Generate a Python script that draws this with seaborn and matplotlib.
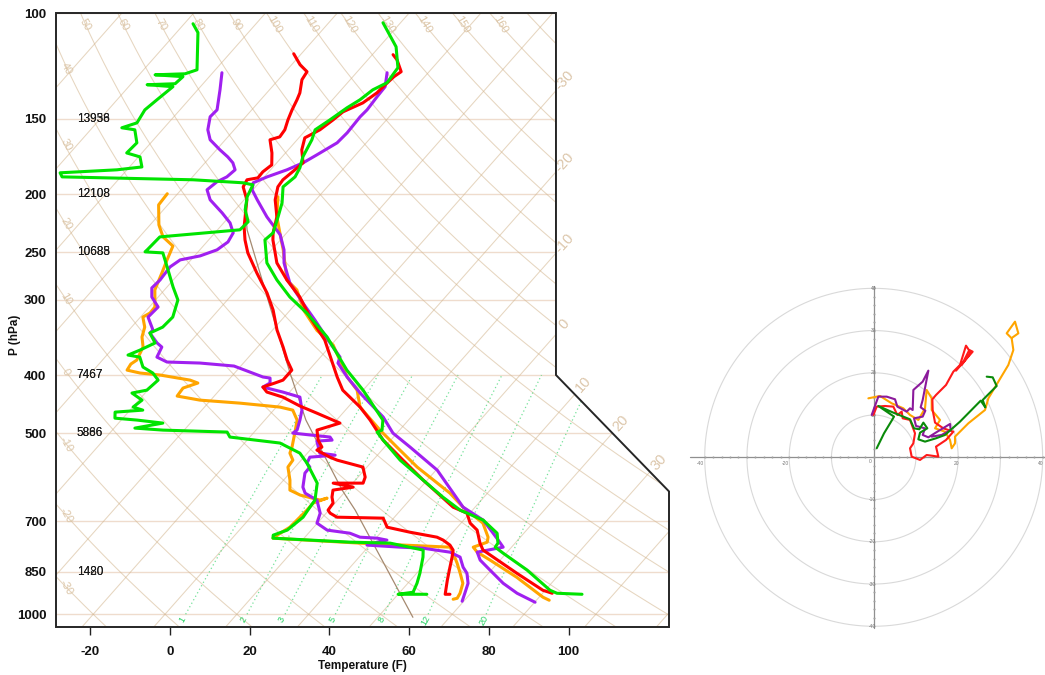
import numpy as np
import pandas as pd
import matplotlib
matplotlib.use("Agg")
import matplotlib.pyplot as plt
from matplotlib.patches import Polygon
import seaborn as sns

sns.set_theme(style="white")
plt.rcParams["font.family"] = ["Liberation Sans", "DejaVu Sans"]

# ---------------- sounding data (pressure hPa, temperature degF) ----------------
green_t_p = [103.8,113.8,123.3,130.6,134.2,139.4,143.8,150.6,156.4,162.5,173.4,180.9,187.3,194.6,206.9,218.3,232.1,238.4,260.4,278,296.7,315.5,345.8,392.6,423.9,475.4,494,497.7,513.3,554.2,598.3,638.5,671.1,697.3,733.2,761.6,773.4,791.3,844.5,912.2,922.7,926.3]
green_t_f = [-80.4,-71.8,-66.7,-66.1,-68.1,-69.1,-70.6,-72.2,-73.7,-72.3,-70.8,-69.1,-68.3,-69.1,-65.8,-63.7,-61.4,-61.9,-56.3,-50.0,-43.0,-35.2,-24.8,-12.5,-4.0,7.6,9.6,8.8,12.1,20.8,31.0,39.7,46.9,54.9,61.3,63.7,63.9,67.2,77.0,87.2,89.6,96.1]

red_t_p = [117.3,119.6,125.2,127.6,132.6,135.8,141.1,146.0,150.6,156.4,161.3,168.9,177.5,182.3,189.4,194.6,204.5,218.3,232.1,238.4,260.4,278,296.7,320.4,349.9,403.1,423.9,452.3,475.4,513.3,554.2,598.3,663.6,679,705.4,724.5,761.6,782.1,854.6,912.2,922.7]
red_t_f = [-70.8,-68.7,-65.0,-65.7,-66.2,-66.4,-67.7,-70.7,-71.4,-72.5,-74.5,-72.6,-69.4,-69.9,-70.7,-70.4,-68.2,-64.0,-61.4,-59.9,-53.8,-47.5,-40.5,-33.5,-24.7,-13.4,-9.1,-1.0,4.4,12.1,21.5,31.0,44.5,49.3,52.3,55.6,59.2,61.5,75.1,85.4,88.4]

purple_t_p = [125.7,132.6,137.8,144.9,148.8,158.2,164.4,172.1,177.5,182.3,187.3,191.6,196.8,204.5,218.3,233.8,247.7,260.4,281.2,303.6,324.1,353.9,373.5,382.1,403.1,428.6,469.9,499.7,527.2,575.8,663.6,697.3,733.2,752.8,773.4,788.3,812.7,844.5,888.1,922.7,955.0]
purple_t_f = [-68.3,-65.7,-65.5,-65.1,-65.3,-65.0,-65.3,-67.7,-69.4,-71.9,-75.3,-77.5,-76.2,-72.7,-66.5,-59.2,-54.9,-52.0,-46.1,-38.4,-31.6,-22.7,-17.1,-16.3,-10.9,-4.1,7.0,13.0,20.4,32.3,47.0,54.9,60.3,63.1,65.9,60.5,63.0,67.7,73.9,79.6,86.1]

orange_t_p = [202.1,218.3,232.1,247.7,260.4,278,288.8,312.4,337.2,356.6,377.8,403.1,423.9,452.3,494,527.2,569.1,628.9,663.6,705.4,744.3,758.7,773.4,788.3,812.7,868.1,937.0,947.7]
orange_t_f = [-68.2,-64.0,-59.7,-55.1,-51.8,-47.5,-42.8,-36.5,-28.8,-21.5,-16.5,-10.9,-5.5,-1.0,9.1,17.1,26.6,40.6,47.0,55.5,59.9,60.8,58.4,60.5,65.5,76.0,87.0,89.2]

green_d_p = [104.2,107.8,124.3,126.2,126.7,127.6,131.1,131.6,132.6,139.4,
             144.9,152.3,155.2,156.4,164.4,170.9,173.5,180.3,182.3,184.4,
             187.3,189.4,191.6,193.1,202.1,212.5,222.5,229.4,235.7,247.7,
             249.6,250.6,264.5,285.5,300.1,320.4,333.0,340.6,353.8,363.6,
             370.6,373.5,388.0,397.0,407.9,423.9,428.6,440.4,452.3,457.6,
             461.1,471.9,475.4,480.9,490.2,494.0,497.7,507.3,519.1,539.5,
             560.6,605.2,645.9,663.6,689.5,724.5,738.6,747.2,758.7,761.6,
             782.1,803.4,854.6,888.1,919.1,926.3,926.3]
green_d_f = [-127.8,-124.6,-116.6,-118.7,-126.0,-118.6,-119.0,-125.8,-118.9,-120.0,
             -120.8,-119.9,-122.6,-118.9,-115.5,-115.8,-111.6,-108.9,-114.5,-128.1,
             -126.7,-93.2,-80.0,-77.1,-75.9,-73.5,-70.1,-70.4,-88.9,-89.2,
             -89.3,-84.6,-80.4,-74.5,-70.4,-67.9,-68.2,-70.1,-66.6,-68.8,
             -70.7,-67.3,-64.3,-60.5,-57.6,-58.2,-61.3,-57.2,-57.9,-54.8,
             -61.3,-60.0,-54.0,-46.9,-52.8,-45.3,-28.8,-27.0,-13.1,-5.9,
             -1.9,5.1,8.3,8.6,9.1,8.0,5.6,6.2,26.4,36.7,
             46.5,48.0,50.8,52.3,53.3,50.0,57.2]

red_d_p = [116.9,121.9,125.2,129.1,135.8,139.4,144.9,150.6,156.4,160.7,
           162.5,170.9,178.9,183.7,188.0,189.4,194.6,204.5,226.8,238.4,
           250.6,270.6,292.2,311.9,336.7,359.4,377.8,392.6,407.9,412.5,
           418.9,427.0,435.3,450.5,462.9,480.9,494.0,513.3,527.2,533.3,
           547.9,554.2,569.1,591.5,605.2,605.2,614.6,621.6,638.5,653.3,
           671.1,679.0,689.5,692.1,716.5,730.3,744.4,752.8,767.3,782.1,
           803.4,835.1,877.3,926.3,926.3]
red_d_f = [-95.9,-91.9,-88.6,-88.1,-85.7,-84.9,-83.9,-82.7,-81.3,-81.0,
           -82.8,-79.4,-76.8,-77.5,-77.4,-79.7,-79.1,-75.3,-70.0,-66.9,
           -63.3,-56.6,-49.6,-44.3,-38.9,-33.6,-29.7,-26.3,-26.3,-27.7,
           -29.8,-27.7,-22.6,-16.3,-10.5,-2.5,-6.7,-4.2,-1.7,-2.3,
           2.5,5.0,13.0,15.8,16.6,9.1,15.0,10.6,11.9,13.5,
           13.8,15.0,17.6,29.4,32.4,39.2,47.1,49.3,52.1,54.0,
           55.3,57.0,59.2,61.8,63.0]

purple_d_p = [125.7,134.2,144.9,148.8,156.4,162.5,168.9,173.5,177.5,182.3,
              187.3,190.9,196.8,204.5,215.0,223.4,232.1,240.3,247.7,253.5,
              257.4,264.5,278.0,286.6,296.7,308.3,320.4,336.7,340.6,353.8,
              359.4,373.5,380.6,382.1,386.5,403.1,404.7,412.5,418.9,427.0,
              435.3,457.6,475.4,494.0,499.7,507.3,513.3,515.2,539.5,543.7,
              547.9,560.6,569.1,582.4,614.6,628.9,645.9,679.0,705.4,724.5,
              733.2,744.4,747.2,752.8,758.7,767.3,773.4,776.4,788.4,803.4,
              835.1,854.6,888.1,922.7,951.4]
purple_d_f = [-109.7,-106.4,-102.7,-102.9,-100.6,-97.8,-93.1,-89.6,-87.0,-84.9,
              -85.4,-86.8,-87.5,-84.5,-78.6,-74.4,-71.4,-70.7,-71.7,-74.6,
              -78.7,-79.7,-79.3,-79.6,-77.6,-73.8,-74.1,-70.0,-70.1,-66.1,
              -64.0,-63.0,-59.4,-50.9,-41.7,-32.0,-30.0,-28.9,-29.8,-23.7,
              -18.3,-14.9,-13.2,-11.7,-12.1,-1.9,-0.7,-4.3,-0.9,3.4,
              -2.5,-1.9,-0.3,-0.2,2.4,4.3,8.8,12.5,13.9,18.0,
              24.4,27.8,32.3,35.2,33.2,31.3,40.1,46.0,53.7,57.3,
              60.3,62.6,65.1,66.5,67.6]

orange_d_p = [199.8,208.5,225.1,235.7,244.1,250.6,257.4,270.6,288.8,308.3,
              315.5,320.4,333.0,345.8,359.4,367.7,377.8,383.6,392.6,397.0,
              400.0,407.9,412.5,420.5,433.6,440.4,445.5,452.3,457.6,475.4,
              499.7,527.2,539.5,554.2,569.1,598.3,621.6,633.6,645.9,641.0,
              653.3,671.1,689.5,716.5,733.2,747.2,761.6,773.4,791.3,822.3,
              854.6,888.1,922.7,940.6,944.1]
orange_d_f = [-96.6,-96.3,-91.8,-88.1,-83.6,-82.8,-82.0,-80.4,-78.4,-74.6,
              -74.5,-75.4,-72.7,-71.2,-68.7,-68.1,-67.4,-68.0,-67.6,-63.7,
              -58.3,-49.6,-47.0,-49.6,-49.3,-42.7,-32.0,-21.1,-17.2,-13.9,
              -11.6,-9.2,-8.4,-6.1,-5.8,-2.4,-0.2,3.5,9.6,10.9,
              8.5,8.5,8.3,8.0,6.9,6.2,29.1,52.6,54.7,57.9,
              60.9,63.8,65.3,65.7,64.9]

parcel_p = [1011.6,671.1,621.6,569.1,475.4,397.0,300.1,229.4,208.5]
parcel_f = [58.8,20.6,12.9,4.8,-11.7,-26.1,-47.8,-68.6,-74.6]

# height labels on the left (overlapping sounding values)
height_levels = [150, 200, 250, 400, 500, 850]
height_a = ["13938", "12108", "10685", "7467", "5866", "1420"]
height_b = ["13956", "12108", "10688", "7467", "5886", "1480"]

p_ticks = [100, 150, 200, 250, 300, 400, 500, 700, 850, 1000]
t_ticks_f = [-20, 0, 20, 40, 60, 80, 100]
mix_ratios = [1, 2, 3, 5, 8, 12, 20]

# ---------------- hodograph data (u, v) ----------------
hodo_orange_u = [-1.26,1.50,4.26,7.02,8.60,10.57,12.15,12.54,13.73,13.73,15.70,14.52,16.88,18.07,18.46,19.25,19.25,22.41,26.35,27.14,29.51,31.87,33.06,32.66,31.48,33.45,34.24,32.90]
hodo_orange_v = [13.96,14.52,12.78,11.60,10.02,8.84,11.60,15.94,13.96,11.20,8.84,6.86,6.07,4.10,2.13,3.31,4.89,8.05,11.20,13.96,17.91,21.85,25.40,28.17,29.35,32.11,29.35,28.40]
hodo_red_u = [-0.08,0.71,2.68,4.65,5.60,6.63,6.86,8.60,9.78,9.39,8.60,8.99,10.97,12.54,15.31,14.75,17.12,18.86,16.49,14.52,13.96,13.89,14.75,17.12,18.86,20.43,21.85,22.96,20.83,22.64,23.43,19.49]
hodo_red_v = [10.02,11.99,12.15,11.99,10.02,10.81,9.23,8.84,5.68,3.31,2.13,0.16,-0.63,0.55,0.16,2.52,4.10,6.07,6.86,8.21,11.20,13.73,14.75,17.12,20.28,21.85,26.43,24.77,21.85,25.40,25.01,20.51]
hodo_purple_u = [-0.47,1.10,3.08,5.05,5.60,7.81,8.60,9.23,9.39,11.60,12.94,11.60,11.12,12.23,11.60,9.55,10.02,12.15,11.60,12.94,15.07,18.07,18.22,16.09,13.73]
hodo_purple_v = [10.02,14.36,14.36,13.73,11.99,10.81,11.60,11.20,15.94,17.91,20.51,13.57,11.83,11.05,9.63,9.23,7.42,6.86,5.29,4.73,6.07,7.89,6.47,5.29,4.89]
hodo_green_u = [0.71,2.45,4.26,4.81,1.10,4.65,8.60,9.55,10.81,11.76,12.70,10.97,10.57,12.15,14.75,16.88,20.43,25.33,26.43,25.80,29.11,28.17,26.75]
hodo_green_v = [2.13,5.68,8.68,9.63,12.15,10.57,8.99,6.86,6.63,8.21,6.86,5.84,4.26,3.71,4.50,5.29,8.44,13.41,11.83,13.57,16.88,18.93,19.09]

# ---------------- skew-T coordinate helpers ----------------
def ypos(p):
    return 132.182 - 44.061 * np.log10(np.asarray(p, dtype=float))

def xpos(tc, y):
    return 0.54 * np.asarray(tc, dtype=float) + 0.90692 * np.asarray(y, dtype=float)

def f2c(f):
    return (np.asarray(f, dtype=float) - 32.0) / 1.8

W, H = 1045, 675
fig = plt.figure(figsize=(W / 100, H / 100), dpi=100)
ax = fig.add_axes([56 / W, (H - 627) / H, 613 / W, 614 / H])

XMIN, XMAX = -19.0, 27.1
YMIN, YMAX = -0.9346217, 44.061
frame_x = [XMIN, XMAX, XMAX, 18.6, 18.6, XMIN, XMIN]
frame_y = [YMIN, YMIN, 9.0, 17.53255, YMAX, YMAX, YMIN]

clipper = Polygon(np.column_stack([frame_x, frame_y]), closed=True,
                  transform=ax.transData)

TAN = "#d2b48c"
GRID_ALPHA = 0.55

def clipped(line):
    line.set_clip_path(clipper)

# horizontal pressure lines
for p in p_ticks:
    ln, = ax.plot([XMIN, XMAX], [ypos(p), ypos(p)], color="#efdccd", lw=1.0, zorder=1)
    clipped(ln)

# isotherms
yy = np.linspace(YMIN, YMAX, 60)
for t in range(-120, 60, 10):
    ln, = ax.plot(xpos(t, yy), yy, color=TAN, lw=0.75, alpha=GRID_ALPHA, zorder=1)
    clipped(ln)

# dry adiabats
pp = np.linspace(1060, 95, 300)
for th in range(-40, 210, 10):
    tc = (th + 273.15) * (pp / 1000.0) ** 0.2857 - 273.15
    ln, = ax.plot(xpos(tc, ypos(pp)), ypos(pp), color=TAN, lw=0.75, alpha=GRID_ALPHA, zorder=1)
    clipped(ln)
    if 50 <= th <= 160:
        ptop = 104.5
        tt = (th + 273.15) * (ptop / 1000.0) ** 0.2857 - 273.15
        ax.text(xpos(tt, ypos(ptop)), ypos(ptop), str(th), color="#dcc6a8",
                fontsize=8, rotation=-60, ha="center", va="center", zorder=3)
    elif -30 <= th <= 40:
        xs = xpos(tc, ypos(pp))
        idx = np.argmin(np.abs(xs + 18.25))
        ax.text(-18.25, ypos(pp[idx]), str(th), color="#dcc6a8", fontsize=8,
                rotation=-60, ha="center", va="center", zorder=3)

# isotherm labels outside right frame
k = 8.5 / (17.53255 - 9.0)
for t in range(-30, 40, 10):
    yr = (18.6 - 0.54 * t) / 0.90692
    if yr < 17.53255:
        yr = (18.6 + k * 17.53255 - 0.54 * t) / (0.90692 + k)
        if yr < 9.0:
            yr = (27.1 - 0.54 * t) / 0.90692
    yl = yr + 0.72
    ax.text(xpos(t, yl), yl, str(t), color="#dcc6aa", fontsize=10.5, rotation=48,
            ha="center", va="center", clip_on=False, zorder=3)

# mixing ratio lines
pm = np.linspace(1000, 400, 60)
for w in mix_ratios:
    e = w * pm / (622.0 + w)
    lnr = np.log(e / 6.112)
    td = 243.5 * lnr / (17.67 - lnr)
    ln, = ax.plot(xpos(td, ypos(pm)), ypos(pm), color="#3ad56f", lw=0.9,
                  ls=(0, (1, 2.2)), alpha=0.7, zorder=2)
    clipped(ln)
    pl = 1022.0
    el = w * pl / (622.0 + w)
    lr = np.log(el / 6.112)
    tdl = 243.5 * lr / (17.67 - lr)
    ax.text(xpos(tdl, ypos(pl)), ypos(pl), str(w), color="#22d060", fontsize=6.5,
            rotation=60, ha="center", va="center", zorder=3)

# parcel path
par = pd.DataFrame({"y": ypos(parcel_p)})
par["x"] = xpos(f2c(parcel_f), par["y"])
sns.lineplot(data=par, x="x", y="y", sort=False, estimator=None, color="#a58a70",
             lw=0.9, ax=ax, zorder=3)

# profiles
def profile(p, tf, color):
    df = pd.DataFrame({"y": ypos(p)})
    df["x"] = xpos(f2c(tf), df["y"])
    sns.lineplot(data=df, x="x", y="y", sort=False, estimator=None, color=color,
                 lw=2.2, ax=ax, zorder=6)

C_GREEN, C_RED, C_ORANGE, C_PURPLE = "#00e400", "#ff0000", "#ffa500", "#a020f0"
profile(orange_d_p, orange_d_f, C_ORANGE)
profile(orange_t_p, orange_t_f, C_ORANGE)
profile(purple_d_p, purple_d_f, C_PURPLE)
profile(purple_t_p, purple_t_f, C_PURPLE)
profile(red_d_p, red_d_f, C_RED)
profile(red_t_p, red_t_f, C_RED)
profile(green_d_p, green_d_f, C_GREEN)
profile(green_t_p, green_t_f, C_GREEN)

# frame
ax.add_patch(Polygon(np.column_stack([frame_x, frame_y]), closed=True, fill=False,
                     ec="#262626", lw=1.4, zorder=20, clip_on=False))

# height labels
for lev, a, b in zip(height_levels, height_a, height_b):
    for s in (a, b):
        ax.text(-17.45, ypos(lev), s, fontsize=8.5, color="#1a1a1a", ha="left",
                va="center", zorder=8)

ax.set_xlim(XMIN, XMAX)
ax.set_ylim(YMIN, YMAX)
ax.set_xlabel("")
ax.set_ylabel("")
for sp in ax.spines.values():
    sp.set_visible(False)
ax.set_xticks(xpos(f2c(t_ticks_f), YMIN))
ax.set_xticklabels([str(v) for v in t_ticks_f], fontweight="bold")
ax.set_yticks(ypos(p_ticks))
ax.set_yticklabels([str(v) for v in p_ticks], fontweight="bold")
ax.tick_params(axis="x", bottom=True, direction="out", length=6, width=1.0,
               color="#222222", pad=8, labelsize=9.5, labelcolor="#111111")
ax.tick_params(axis="y", left=False, length=0, pad=7, labelsize=9.5,
               labelcolor="#111111")
ax.set_facecolor("white")

fig.text(15 / W, 1 - 335 / H, "P (hPa)", rotation=90, ha="center", va="center",
         fontsize=8.5, fontweight="bold", color="#111111")
fig.text(362 / W, 1 - 666 / H, "Temperature (F)", ha="center", va="center",
         fontsize=8.5, fontweight="bold", color="#111111")

# ---------------- hodograph ----------------
hx = fig.add_axes([687.8 / W, (H - 630.5) / H, 359.1 / W, 346.4 / H])
hx.set_xlim(-44, 41)
hx.set_ylim(-41, 41)
hx.axis("off")
ang = np.linspace(0, 2 * np.pi, 361)
for r in (10, 20, 30, 40):
    hx.plot(r * np.cos(ang), r * np.sin(ang), color="#d9d9d9", lw=0.8, zorder=1)
hx.plot([-43.5, 40.5], [0, 0], color="#8f8f8f", lw=0.9, zorder=2)
hx.plot([0, 0], [-40.5, 40.5], color="#8f8f8f", lw=0.9, zorder=2)
mt = np.arange(-40, 41, 2)
hx.plot(mt, np.zeros_like(mt), ls="none", marker="|", ms=2, color="#a0a0a0", zorder=2)
hx.plot(np.zeros_like(mt), mt, ls="none", marker="_", ms=2, color="#a0a0a0", zorder=2)
for u in (-40, -20, 20, 40):
    hx.text(u - 1.0 if u < 0 else u - 0.5, -1.4, str(u), fontsize=3.5, color="#777777",
            ha="center", va="center")
hx.text(-0.8, -0.9, "0", fontsize=3.5, color="#777777", ha="center", va="center")
for v in (-40, -30, -20, -10, 10, 20, 30, 40):
    hx.text(0.6, v, str(v), fontsize=3.5, color="#777777", ha="right", va="center")

def hodo(u, v, color):
    sns.lineplot(x=u, y=v, sort=False, estimator=None, color=color, lw=1.5, ax=hx,
                 zorder=5)

hodo(hodo_orange_u, hodo_orange_v, "#ffa500")
hodo(hodo_red_u, hodo_red_v, "#ff1a1a")
hodo(hodo_purple_u, hodo_purple_v, "#8b1a9b")
hodo(hodo_green_u, hodo_green_v, "#0a8a0a")
hx.set_xlim(-44, 41)
hx.set_ylim(-41, 41)
hx.axis("off")

fig.savefig("out.png", dpi=100, facecolor="white")
